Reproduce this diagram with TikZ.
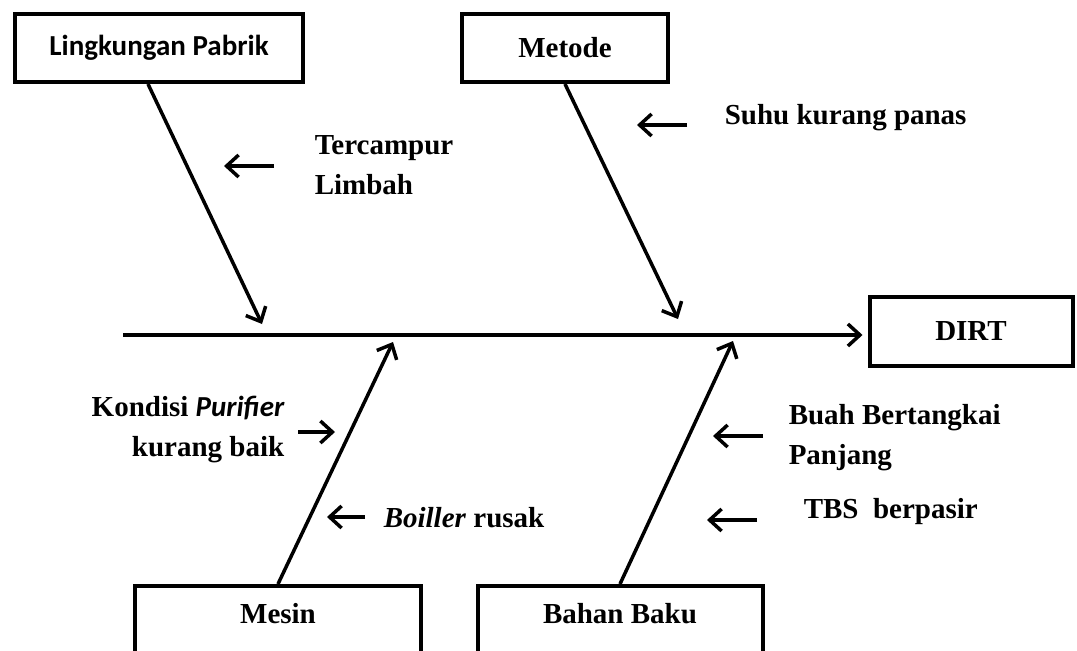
\documentclass[tikz,border=0pt]{standalone}
\usepackage{fontspec}
\setmainfont{Liberation Serif}
\newfontfamily\calfont{Carlito}
\usetikzlibrary{arrows.meta}

\begin{document}
\begin{tikzpicture}[x=1pt,y=-1pt,->,>={Straight Barb[length=12pt,width=22pt]},line width=3.5pt,
                    box/.style={draw,line width=4pt,inner sep=0pt,font=\bfseries\fontsize{29}{40}\selectfont},
                    topbox/.style={box,minimum height=68pt},
                    bottombox/.style={box,anchor=north,text height=37pt,text depth=50pt},
                    cause/.style={inner sep=0pt,font=\bfseries\fontsize{29}{40}\selectfont}]

	\clip (0,0) rectangle (1077,651);

	\node[topbox,minimum width=288pt] (lp) at (159,48)     	{\calfont Lingkungan Pabrik};
	\node[topbox,minimum width=206pt] (mt) at (565,48)     	{Metode};
	\node[box,minimum width=203pt,minimum height=69pt] (dirt) at (971,331)	{DIRT};
	\node[bottombox,minimum width=286pt] (ms) at (278,584)	{Mesin};
	\node[bottombox,minimum width=285pt] (bb) at (620,584)	{Bahan Baku};

	\node[cause,anchor=west,align=left] (tl) at (313,165)   	{Tercampur\\Limbah};
	\node[cause,anchor=west] (sk) at (723,118)              	{Suhu kurang panas};
	\node[cause,anchor=east,align=right] (kp) at (286,430)  	{Kondisi {\calfont\itshape Purifier}\\kurang baik};
	\node[cause,anchor=west] (br) at (382,518)              	{\textit{Boiller} rusak};
	\node[cause,anchor=west,align=left] (bp) at (787,438)   	{Buah Bertangkai\\Panjang};
	\node[cause,anchor=west] (tb) at (802,512)              	{TBS\ \ berpasir};

	\coordinate (tail) at (123,335);
	\coordinate (j1) at (262,324);
	\coordinate (j2) at (678,319);
	\coordinate (j3) at (393,342);
	\coordinate (j4) at (733,341);

	\coordinate (c1s) at (274,166);	\coordinate (c1e) at (224,166);
	\coordinate (c2s) at (687,125);	\coordinate (c2e) at (637,125);
	\coordinate (c3s) at (298,432);	\coordinate (c3e) at (335,432);
	\coordinate (c4s) at (365,517);	\coordinate (c4e) at (327,517);
	\coordinate (c5s) at (763,436);	\coordinate (c5e) at (713,436);
	\coordinate (c6s) at (757,520);	\coordinate (c6e) at (707,520);

	\path (tail) edge [shorten >=5pt] (tail -| dirt.west);
	\path ([xshift=-11pt]lp.south) edge (j1);
	\path (mt.south) edge (j2);
	\path (ms.north) edge (j3);
	\path (bb.north) edge (j4);

	\path (c1s) edge (c1e);
	\path (c2s) edge (c2e);
	\path (c3s) edge (c3e);
	\path (c4s) edge (c4e);
	\path (c5s) edge (c5e);
	\path (c6s) edge (c6e);

\end{tikzpicture}
\end{document}
